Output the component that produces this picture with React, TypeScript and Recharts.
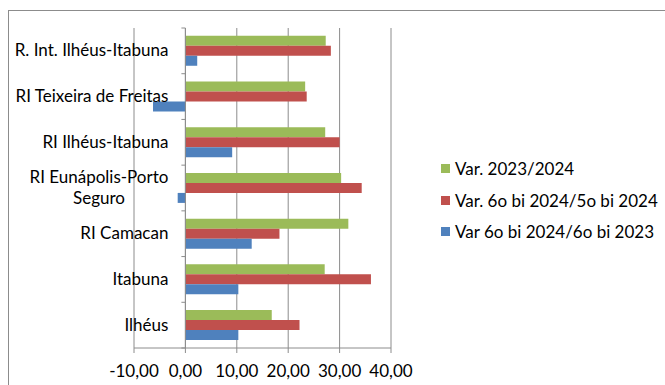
import React from 'react';
import { BarChart, Bar, XAxis, YAxis, CartesianGrid, ReferenceLine, Legend } from 'recharts';

// Regions, top to bottom
const regions = [
  'R. Int. Ilhéus-Itabuna',
  'RI Teixeira de Freitas',
  'RI Ilhéus-Itabuna',
  'RI Eunápolis-Porto Seguro',
  'RI Camacan',
  'Itabuna',
  'Ilhéus',
];
const varAnual = [27.3, 23.3, 27.2, 30.3, 31.7, 27.1, 16.8];
const varBimestre = [28.3, 23.6, 30.0, 34.3, 18.3, 36.1, 22.2];
const varBimestreAno = [2.3, -6.3, 9.1, -1.5, 12.9, 10.3, 10.3];
const xTicks = [-10, 0, 10, 20, 30, 40];

const seriesNames = ['Var. 2023/2024', 'Var. 6o bi 2024/5o bi 2024', 'Var 6o bi 2024/6o bi 2023'];
const colors = ['#9BBB59', '#C0504D', '#4F81BD'];

const data = regions.map((regiao, i) => ({
  regiao,
  anual: varAnual[i],
  bimestre: varBimestre[i],
  bimestreAno: varBimestreAno[i],
}));

const FONT = 'Lato, "Noto Sans", sans-serif';
const FONT_SIZE = 17;
const AXIS_COLOR = '#8C8C8C';

// plot box
const W = 665;
const H = 385;
const M = { top: 28, right: 274, bottom: 0, left: 0 };
const Y_AXIS_W = 134;
const X_AXIS_H = 37;
const PLOT_LEFT = M.left + Y_AXIS_W;
const PLOT_W = W - PLOT_LEFT - M.right;
const PLOT_H = H - M.top - M.bottom - X_AXIS_H;
const BAND = PLOT_H / regions.length;
const ZERO_X = PLOT_LEFT + PLOT_W * (0 - xTicks[0]) / (xTicks[xTicks.length - 1] - xTicks[0]);

const fmt = (v: number) => v.toFixed(2).replace('.', ',');

let ctx: CanvasRenderingContext2D | null = null;
function textWidth(s: string) {
  if (!ctx) ctx = document.createElement('canvas').getContext('2d');
  if (!ctx) return s.length * 8;
  ctx.font = `${FONT_SIZE}px ${FONT}`;
  return ctx.measureText(s).width;
}

// wrap long region names onto several lines
function wrapLabel(s: string, max: number) {
  const words = s.split(' ');
  const lines: string[] = [];
  let cur = '';
  for (const w of words) {
    const next = cur ? cur + ' ' + w : w;
    if (cur && textWidth(next) > max) {
      lines.push(cur);
      cur = w;
    } else cur = next;
  }
  if (cur) lines.push(cur);
  return lines;
}

function CategoryTick(props: any) {
  const { y, payload, index } = props;
  const lines = wrapLabel(payload.value, 170);
  const right = ZERO_X - 17;
  const widest = Math.max(...lines.map(textWidth));
  const cx = right - widest / 2;
  const lh = 20.7;
  const y0 = y + 5.5 - ((lines.length - 1) * lh) / 2;
  return (
    <g>
      {index === 0 && (
        <line x1={ZERO_X - 4} x2={ZERO_X} y1={y - BAND / 2} y2={y - BAND / 2} stroke={AXIS_COLOR} />
      )}
      <line x1={ZERO_X - 4} x2={ZERO_X} y1={y + BAND / 2} y2={y + BAND / 2} stroke={AXIS_COLOR} />
      {lines.map((l, i) => (
        <text
          key={i}
          x={lines.length > 1 ? cx : right}
          y={y0 + i * lh}
          textAnchor={lines.length > 1 ? 'middle' : 'end'}
          fontFamily={FONT}
          fontSize={FONT_SIZE}
          fill="#000"
        >
          {l}
        </text>
      ))}
    </g>
  );
}

function LegendBox({ payload }: any) {
  const items = [...(payload || [])].sort(
    (a: any, b: any) => seriesNames.indexOf(a.value) - seriesNames.indexOf(b.value)
  );
  return (
    <div style={{ fontFamily: FONT, fontSize: FONT_SIZE, color: '#000' }}>
      {items.map((p: any) => (
        <div key={p.value} style={{ display: 'flex', alignItems: 'center', height: 31.5 }}>
          <span style={{ width: 9, height: 9, background: p.color, marginRight: 5 }} />
          <span>{p.value}</span>
        </div>
      ))}
    </div>
  );
}

export default function App() {
  return (
    <div style={{ position: 'absolute', left: 0, top: 0, width: W, height: H, overflow: 'hidden', background: '#fff' }}>
      <div
        style={{
          position: 'absolute',
          left: 8,
          top: 10,
          width: W,
          height: H,
          border: `1px solid ${AXIS_COLOR}`,
        }}
      />
      <BarChart
        width={W}
        height={H}
        data={data}
        layout="vertical"
        margin={M}
        barCategoryGap="17%"
        barGap={0}
      >
        <CartesianGrid horizontal={false} stroke={AXIS_COLOR} />
        <XAxis
          type="number"
          domain={[xTicks[0], xTicks[xTicks.length - 1]]}
          ticks={xTicks}
          tickFormatter={fmt}
          height={X_AXIS_H}
          stroke={AXIS_COLOR}
          tickSize={5}
          tickMargin={12}
          tick={{ fill: '#000', fontFamily: FONT, fontSize: FONT_SIZE }}
        />
        <YAxis
          type="category"
          dataKey="regiao"
          width={Y_AXIS_W}
          axisLine={false}
          tickLine={false}
          interval={0}
          tick={<CategoryTick />}
        />
        <ReferenceLine x={0} stroke={AXIS_COLOR} />
        <Legend
          layout="vertical"
          align="center"
          verticalAlign="middle"
          wrapperStyle={{ left: 441, top: 153, width: 224 }}
          content={<LegendBox />}
        />
        <Bar dataKey="anual" name={seriesNames[0]} fill={colors[0]} isAnimationActive={false} />
        <Bar dataKey="bimestre" name={seriesNames[1]} fill={colors[1]} isAnimationActive={false} />
        <Bar dataKey="bimestreAno" name={seriesNames[2]} fill={colors[2]} isAnimationActive={false} />
      </BarChart>
    </div>
  );
}
